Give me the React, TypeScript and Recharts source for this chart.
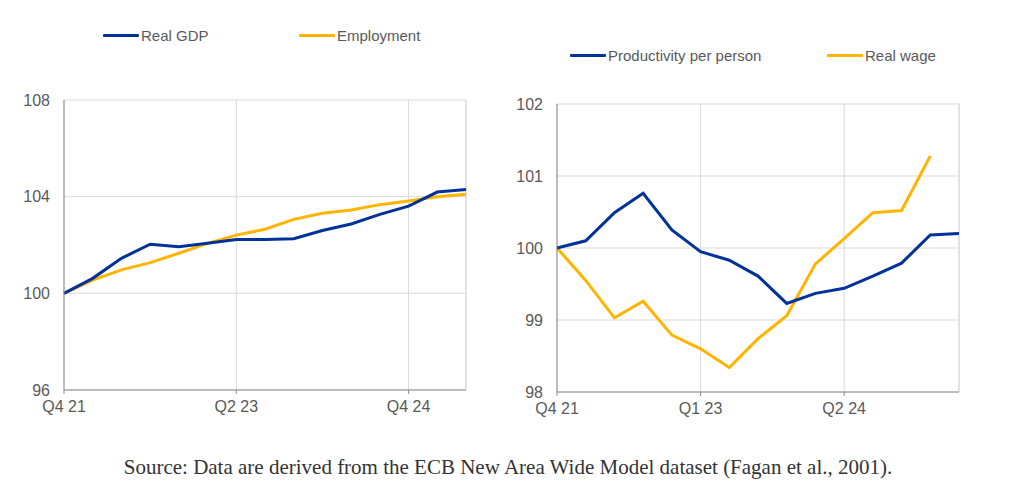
import { LineChart, Line, XAxis, YAxis, CartesianGrid, ReferenceLine } from 'recharts';

const quarters = [
  'Q4 21', 'Q1 22', 'Q2 22', 'Q3 22', 'Q4 22', 'Q1 23', 'Q2 23', 'Q3 23',
  'Q4 23', 'Q1 24', 'Q2 24', 'Q3 24', 'Q4 24', 'Q1 25', 'Q2 25',
];

const realGdp = [100, 100.62, 101.45, 102.03, 101.93, 102.07, 102.23, 102.23, 102.26, 102.6, 102.87, 103.27, 103.61, 104.19, 104.3];
const employment = [100, 100.55, 100.97, 101.27, 101.66, 102.07, 102.41, 102.65, 103.06, 103.31, 103.45, 103.67, 103.82, 104.0, 104.1];

const productivity = [100, 100.1, 100.49, 100.76, 100.25, 99.95, 99.83, 99.61, 99.23, 99.37, 99.44, 99.61, 99.79, 100.18, 100.2];
const realWage = [100, 99.55, 99.03, 99.26, 98.79, 98.6, 98.34, 98.74, 99.06, 99.78, 100.13, 100.49, 100.52, 101.28, null];

const leftXTicks = ['Q4 21', 'Q2 23', 'Q4 24'];
const rightXTicks = ['Q4 21', 'Q1 23', 'Q2 24'];
const leftYTicks = [96, 100, 104, 108];
const rightYTicks = [98, 99, 100, 101, 102];

const BLUE = '#003299';
const YELLOW = '#FFB400';
const GRID = '#d9d9d9';
const AXIS = '#8c8c8c';
const TEXT = '#595959';
const SANS = 'Liberation Sans, Arial, sans-serif';

const leftData = quarters.map((q, i) => ({ q, gdp: realGdp[i], emp: employment[i] }));
const rightData = quarters.map((q, i) => ({ q, prod: productivity[i], wage: realWage[i] }));

const tickStyle = { fill: TEXT, fontSize: 16, fontFamily: SANS };

function LegendItem({ x, y, color, label }: { x: number; y: number; color: string; label: string }) {
  return (
    <div style={{ position: 'absolute', left: x, top: y - 10, display: 'flex', alignItems: 'center', height: 20 }}>
      <div style={{ width: 36, height: 3, background: color, borderRadius: 1 }} />
      <span style={{ marginLeft: 2, fontSize: 15, color: TEXT, fontFamily: SANS }}>{label}</span>
    </div>
  );
}

export default function App() {
  return (
    <div style={{ position: 'absolute', left: 0, top: 0, width: 1024, height: 498, background: '#fff' }}>
      <LegendItem x={103} y={35} color={BLUE} label="Real GDP" />
      <LegendItem x={299} y={35} color={YELLOW} label="Employment" />
      <LegendItem x={570} y={55} color={BLUE} label="Productivity per person" />
      <LegendItem x={827} y={55} color={YELLOW} label="Real wage" />

      <div style={{ position: 'absolute', left: 0, top: 0 }}>
        <LineChart width={480} height={430} data={leftData} margin={{ top: 100, right: 14, bottom: 0, left: 0 }}>
          <CartesianGrid stroke={GRID} />
          <XAxis
            dataKey="q"
            ticks={leftXTicks}
            interval={0}
            height={40}
            tick={tickStyle}
            fontSize={16}
            tickSize={4}
            tickMargin={7}
            stroke={AXIS}
          />
          <YAxis
            domain={[96, 108]}
            ticks={leftYTicks}
            width={64}
            tick={tickStyle}
            fontSize={16}
            tickLine={false}
            tickMargin={8}
            stroke={AXIS}
          />
          <ReferenceLine x="Q2 25" stroke={GRID} />
          <Line type="linear" dataKey="emp" stroke={YELLOW} strokeWidth={3} dot={false} isAnimationActive={false} />
          <Line type="linear" dataKey="gdp" stroke={BLUE} strokeWidth={3} dot={false} isAnimationActive={false} />
        </LineChart>
      </div>

      <div style={{ position: 'absolute', left: 500, top: 0 }}>
        <LineChart width={480} height={430} data={rightData} margin={{ top: 104, right: 21, bottom: 0, left: 0 }}>
          <CartesianGrid stroke={GRID} />
          <XAxis
            dataKey="q"
            ticks={rightXTicks}
            interval={0}
            height={38}
            tick={tickStyle}
            fontSize={16}
            tickSize={4}
            tickMargin={7}
            stroke={AXIS}
          />
          <YAxis
            domain={[98, 102]}
            ticks={rightYTicks}
            width={57}
            tick={tickStyle}
            fontSize={16}
            tickLine={false}
            tickMargin={8}
            stroke={AXIS}
          />
          <ReferenceLine x="Q2 25" stroke={GRID} />
          <Line type="linear" dataKey="wage" stroke={YELLOW} strokeWidth={3} dot={false} isAnimationActive={false} />
          <Line type="linear" dataKey="prod" stroke={BLUE} strokeWidth={3} dot={false} isAnimationActive={false} />
        </LineChart>
      </div>

      <div
        style={{
          position: 'absolute',
          left: 0,
          width: 1016,
          top: 455,
          textAlign: 'center',
          fontFamily: 'Liberation Serif, serif',
          fontSize: 21,
          color: '#333',
        }}
      >
        Source: Data are derived from the ECB New Area Wide Model dataset (Fagan et al., 2001).
      </div>
    </div>
  );
}
